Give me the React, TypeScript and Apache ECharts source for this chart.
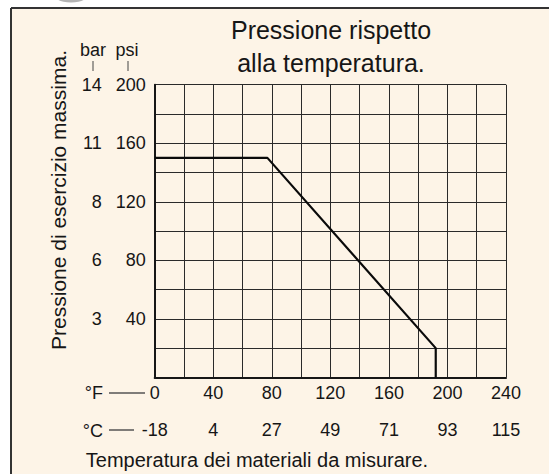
import React, { useEffect, useRef } from "react";
import * as echarts from "echarts";

// Data
const tempF = [0, 77, 192, 192];
const pressurePsi = [150, 150, 20, 0];

const fTicks = [0, 40, 80, 120, 160, 200, 240];
const cLabels = ["-18", "4", "27", "49", "71", "93", "115"];
const psiTicks = [40, 80, 120, 160, 200];
const barLabels = ["3", "6", "8", "11", "14"];

const titleLines = ["Pressione rispetto", "alla temperatura."];
const yTitle = "Pressione di esercizio massima.";
const xTitle = "Temperatura dei materiali da misurare.";

const FONT = "'Liberation Sans', Arial, Helvetica, sans-serif";
const INK = "#161616";

export default function App() {
  const ref = useRef<HTMLDivElement>(null);

  useEffect(() => {
    if (!ref.current) return;
    const chart = echarts.init(ref.current, undefined, { renderer: "svg" });

    const seriesData = tempF.map((t, i) => [t, pressurePsi[i]]);

    const option: any = {
      animation: false,
      backgroundColor: "#ffffff",
      grid: { left: 154.7, top: 84.7, width: 351.3, height: 292.7, containLabel: false },
      xAxis: [
        {
          type: "value",
          position: "bottom",
          min: 0,
          max: 240,
          interval: 20,
          axisLine: { show: true, lineStyle: { color: INK, width: 2 } },
          axisTick: { show: false },
          splitLine: { show: true, lineStyle: { color: "#2a2a2a", width: 1 } },
          axisLabel: {
            margin: 7,
            color: INK,
            fontSize: 18,
            fontFamily: FONT,
            formatter: (v: number) => (fTicks.includes(v) ? String(v) : ""),
          },
        },
        {
          type: "value",
          position: "bottom",
          offset: 37,
          min: 0,
          max: 240,
          interval: 20,
          axisLine: { show: false },
          axisTick: { show: false },
          splitLine: { show: false },
          axisLabel: {
            margin: 7,
            color: INK,
            fontSize: 18,
            fontFamily: FONT,
            formatter: (v: number) => {
              const i = fTicks.indexOf(v);
              return i >= 0 ? cLabels[i] : "";
            },
          },
        },
      ],
      yAxis: [
        {
          type: "value",
          position: "left",
          min: 0,
          max: 200,
          interval: 20,
          axisLine: { show: true, lineStyle: { color: INK, width: 2 } },
          axisTick: { show: false },
          splitLine: { show: true, lineStyle: { color: "#2a2a2a", width: 1 } },
          axisLabel: {
            margin: 9,
            color: INK,
            fontSize: 18,
            fontFamily: FONT,
            formatter: (v: number) => (psiTicks.includes(v) ? String(v) : ""),
          },
        },
        {
          type: "value",
          position: "left",
          offset: 44,
          min: 0,
          max: 200,
          interval: 20,
          axisLine: { show: false },
          axisTick: { show: false },
          splitLine: { show: false },
          axisLabel: {
            margin: 9,
            color: INK,
            fontSize: 18,
            fontFamily: FONT,
            formatter: (v: number) => {
              const i = psiTicks.indexOf(v);
              return i >= 0 ? barLabels[i] : "";
            },
          },
        },
      ],
      series: [
        {
          type: "line",
          xAxisIndex: 0,
          yAxisIndex: 0,
          data: seriesData,
          showSymbol: false,
          symbol: "none",
          lineStyle: { color: "#0a0a0a", width: 2.2 },
          z: 5,
        },
      ],
      graphic: [
        {
          type: "rect",
          z: -100,
          shape: { x: 11, y: 8, width: 540, height: 470 },
          style: { fill: "#fdf4e7" },
          silent: true,
        },
        {
          type: "ellipse",
          z: -90,
          shape: { cx: 71, cy: -2, rx: 14, ry: 4.5 },
          style: { fill: "#b4b4b4" },
          silent: true,
        },
        {
          type: "line",
          shape: { x1: 11, y1: 8, x2: 549, y2: 8 },
          style: { stroke: "#333", lineWidth: 2 },
          silent: true,
        },
        {
          type: "line",
          shape: { x1: 11, y1: 8, x2: 11, y2: 474 },
          style: { stroke: "#333", lineWidth: 2 },
          silent: true,
        },
        {
          type: "text",
          x: 331,
          y: 30,
          style: {
            text: titleLines[0],
            fontSize: 25,
            fontFamily: FONT,
            fill: INK,
            align: "center",
            verticalAlign: "middle",
          },
        },
        {
          type: "text",
          x: 331,
          y: 63,
          style: {
            text: titleLines[1],
            fontSize: 25,
            fontFamily: FONT,
            fill: INK,
            align: "center",
            verticalAlign: "middle",
          },
        },
        {
          type: "text",
          x: 58,
          y: 200,
          rotation: Math.PI / 2,
          style: {
            text: yTitle,
            fontSize: 21,
            fontFamily: FONT,
            fill: INK,
            align: "center",
            verticalAlign: "middle",
          },
        },
        {
          type: "text",
          x: 257,
          y: 460,
          style: {
            text: xTitle,
            fontSize: 20,
            fontFamily: FONT,
            fill: INK,
            align: "center",
            verticalAlign: "middle",
          },
        },
        {
          type: "text",
          x: 93,
          y: 50,
          style: { text: "bar", fontSize: 18, fontFamily: FONT, fill: INK, align: "center", verticalAlign: "middle" },
        },
        {
          type: "text",
          x: 127,
          y: 50,
          style: { text: "psi", fontSize: 18, fontFamily: FONT, fill: INK, align: "center", verticalAlign: "middle" },
        },
        {
          type: "line",
          shape: { x1: 93, y1: 61, x2: 93, y2: 71 },
          style: { stroke: "#444", lineWidth: 1 },
        },
        {
          type: "line",
          shape: { x1: 128, y1: 61, x2: 128, y2: 71 },
          style: { stroke: "#444", lineWidth: 1 },
        },
        {
          type: "text",
          x: 103,
          y: 393,
          style: { text: "°F", fontSize: 18, fontFamily: FONT, fill: INK, align: "right", verticalAlign: "middle" },
        },
        {
          type: "line",
          shape: { x1: 109, y1: 393, x2: 145, y2: 393 },
          style: { stroke: "#555", lineWidth: 1.5 },
        },
        {
          type: "text",
          x: 103,
          y: 431,
          style: { text: "°C", fontSize: 18, fontFamily: FONT, fill: INK, align: "right", verticalAlign: "middle" },
        },
        {
          type: "line",
          shape: { x1: 109, y1: 430, x2: 134, y2: 430 },
          style: { stroke: "#555", lineWidth: 1.5 },
        },
      ],
    };

    chart.setOption(option);
    return () => chart.dispose();
  }, []);

  return (
    <div
      ref={ref}
      style={{ position: "fixed", left: 0, top: 0, width: 549, height: 474 }}
    />
  );
}
